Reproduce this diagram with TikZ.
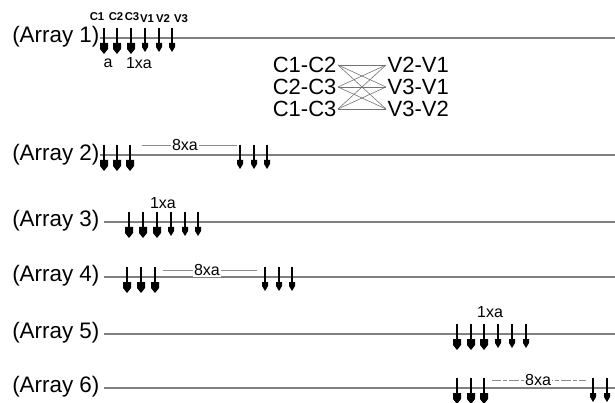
\documentclass[tikz,border=0pt]{standalone}
\usepackage{fontspec}
\setmainfont{Liberation Sans}
\begin{document}
\begin{tikzpicture}[x=0.75pt,y=-0.75pt,
  arrlabel/.style={anchor=west,inner sep=0pt,font=\fontsize{16.8}{18}\selectfont},
  base/.style={draw=black!50,line width=0.8pt},
  gap/.style={draw=black!45,line width=0.7pt},
  gaptext/.style={fill=white,inner sep=1pt,font=\fontsize{12}{13}\selectfont},
  dimtext/.style={inner sep=0pt,font=\fontsize{12}{13}\selectfont},
  small/.style={inner sep=0pt,font=\bfseries\fontsize{8.5}{9}\selectfont},
  pair/.style={inner sep=1pt,font=\fontsize{16.5}{18}\selectfont},
  cross/.style={draw=black!55,line width=0.45pt}]
\useasboundingbox (0,0) rectangle (615,403);
\newcommand\bigArr[2]{%
  \draw[line width=2.2pt] (#1,#2-10) -- (#1,#2+7);
  \fill (#1-4,#2+5) -- (#1+4,#2+5) -- (#1+4,#2+11) -- (#1,#2+16) -- (#1-4,#2+11) -- cycle;}
\newcommand\smallArr[2]{%
  \draw[line width=1pt] (#1,#2-10) -- (#1,#2+6);
  \fill (#1-3,#2+5) -- (#1+3,#2+5) -- (#1+3,#2+9) -- (#1,#2+14) -- (#1-3,#2+9) -- cycle;}

% Array 1
\node[arrlabel] (l1) at (12,37) {(Array 1)};
\coordinate (e1) at (615,38);
\draw[base] (l1.east |- e1) -- (e1);
\bigArr{104}{38}\bigArr{117}{38}\bigArr{131}{38}
\smallArr{145}{38}\smallArr{159}{38}\smallArr{172}{38}
\node[small] (c1) at (97,17) {C1};
\node[small] (c2) at (116,17) {C2};
\node[small] (c3) at (132,17) {C3};
\node[small] (v1) at (147,19) {V1};
\node[small] (v2) at (163,19) {V2};
\node[small] (v3) at (181,19) {V3};
\node[dimtext] (a1) at (108,63) {a};
\node[dimtext] (x1) at (139,63) {1xa};

% pairs
\node[pair,anchor=east] (p1) at (338,65) {C1-C2};
\node[pair,anchor=east] (p2) at (338,87) {C2-C3};
\node[pair,anchor=east] (p3) at (338,109) {C1-C3};
\node[pair,anchor=west] (q1) at (386,65) {V2-V1};
\node[pair,anchor=west] (q2) at (386,87) {V3-V1};
\node[pair,anchor=west] (q3) at (386,109) {V3-V2};
\foreach \l in {p1,p2,p3}{\foreach \r in {q1,q2,q3}{\draw[cross] (\l.east) -- (\r.west);}}

% Array 2
\node[arrlabel] (l2) at (12,155) {(Array 2)};
\coordinate (e2) at (615,155);
\draw[base] (l2.east |- e2) -- (e2);
\bigArr{104}{155}\bigArr{117}{155}\bigArr{130}{155}
\smallArr{240}{155}\smallArr{254}{155}\smallArr{267}{155}
\coordinate (g2a) at (142,145); \coordinate (g2b) at (237,145);
\draw[gap] (g2a) -- (g2b);
\node[gaptext] (t2) at (185,145) {8xa};

% Array 3
\node[arrlabel] (l3) at (12,221) {(Array 3)};
\coordinate (s3) at (104,222); \coordinate (e3) at (615,222);
\draw[base] (s3) -- (e3);
\bigArr{129}{222}\bigArr{143}{222}\bigArr{157}{222}
\smallArr{171}{222}\smallArr{185}{222}\smallArr{198}{222}
\node[dimtext] (x3) at (163,203) {1xa};

% Array 4
\node[arrlabel] (l4) at (12,276) {(Array 4)};
\coordinate (s4) at (104,277); \coordinate (e4) at (615,277);
\draw[base] (s4) -- (e4);
\bigArr{127}{277}\bigArr{141}{277}\bigArr{155}{277}
\smallArr{265}{277}\smallArr{279}{277}\smallArr{292}{277}
\coordinate (g4a) at (163,270); \coordinate (g4b) at (257,270);
\draw[gap] (g4a) -- (g4b);
\node[gaptext] (t4) at (207,270) {8xa};

% Array 5
\node[arrlabel] (l5) at (12,333) {(Array 5)};
\coordinate (s5) at (104,334); \coordinate (e5) at (615,334);
\draw[base] (s5) -- (e5);
\bigArr{457}{334}\bigArr{471}{334}\bigArr{484}{334}
\smallArr{498}{334}\smallArr{512}{334}\smallArr{526}{334}
\node[dimtext] (x5) at (490,312) {1xa};

% Array 6
\node[arrlabel] (l6) at (12,387) {(Array 6)};
\coordinate (s6) at (104,388); \coordinate (e6) at (615,388);
\draw[base] (s6) -- (e6);
\bigArr{457}{388}\bigArr{471}{388}\bigArr{484}{388}
\smallArr{593}{388}\smallArr{607}{388}
\coordinate (g6a) at (492,380); \coordinate (g6b) at (586,380);
\draw[gap,dash pattern=on 7pt off 1.5pt on 3pt off 1.5pt] (g6a) -- (g6b);
\node[gaptext] (t6) at (538,380) {8xa};
\end{tikzpicture}
\end{document}
